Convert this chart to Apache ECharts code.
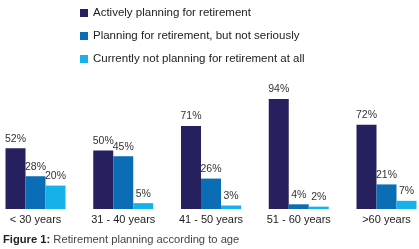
<!DOCTYPE html>
<html>
<head>
<meta charset="utf-8">
<script src="https://cdn.jsdelivr.net/npm/echarts@6/dist/echarts.min.js"></script>
<style>html,body{margin:0;padding:0;background:#fff}#c{width:419px;height:249px}</style>
</head>
<body>
<div id="c"></div>
<script>
var categories = ['< 30 years', '31 - 40 years', '41 - 50 years', '51 - 60 years', '>60 years'];
var seriesNames = ['Actively planning for retirement', 'Planning for retirement, but not seriously', 'Currently not planning for retirement at all'];
var activeValues = [52, 50, 71, 94, 72];
var notSeriousValues = [28, 45, 26, 4, 21];
var notPlanningValues = [20, 5, 3, 2, 7];
var colors = ['#27205f', '#0a6db5', '#15b2ea'];
var FONT = 'Liberation Sans, Arial, sans-serif';

function mk(name, data, color) {
  return {
    name: name, type: 'bar', data: data, barWidth: 20, barGap: '0%',
    itemStyle: { color: color },
    label: { show: true, position: 'top', distance: 4, formatter: '{c}%', color: '#333', fontSize: 10.5, fontFamily: FONT },
    emphasis: { disabled: true }
  };
}
var chart = echarts.init(document.getElementById('c'), null, { renderer: 'canvas' });
chart.setOption({
  animation: false,
  color: colors,
  title: {
    left: -2, top: 229,
    text: '{b|Figure 1:} Retirement planning according to age',
    textStyle: { fontSize: 11.2, fontWeight: 'normal', color: '#444', fontFamily: FONT,
      rich: { b: { fontSize: 11.2, fontWeight: 'bold', color: '#222', fontFamily: FONT } } }
  },
  legend: {
    orient: 'vertical', left: 75, top: 2, itemWidth: 8, itemHeight: 8, itemGap: 11,
    icon: 'rect',
    textStyle: { fontSize: 11.5, color: '#222', fontFamily: FONT },
    data: seriesNames
  },
  grid: { left: 35.5, right: 32.5, top: 92, height: 117, containLabel: false },
  xAxis: {
    type: 'category', data: categories, boundaryGap: false,
    axisLine: { show: false }, axisTick: { show: false },
    axisLabel: { margin: 5, color: '#222', fontSize: 11, fontFamily: FONT }
  },
  yAxis: { type: 'value', min: 0, max: 100, show: false, splitLine: { show: false } },
  series: [
    mk(seriesNames[0], activeValues, colors[0]),
    mk(seriesNames[1], notSeriousValues, colors[1]),
    mk(seriesNames[2], notPlanningValues, colors[2])
  ]
});
</script>
</body>
</html>
